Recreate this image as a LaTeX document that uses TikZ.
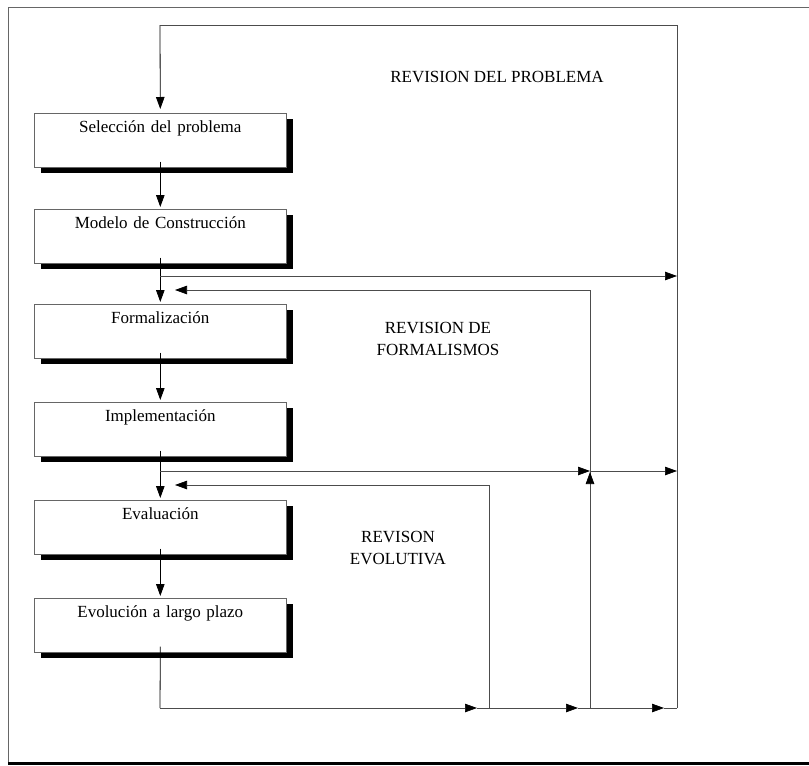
\documentclass[tikz,border=0pt]{standalone}
\usepackage{fontspec}
\setmainfont{Liberation Serif}
\usetikzlibrary{arrows.meta,shadows}
\begin{document}
\begin{tikzpicture}[x=1pt,y=-1pt,
  stage/.style={draw=black!60, line width=0.6pt, fill=white,
    text width=252pt, align=center, inner sep=0pt,
    text height=19pt, text depth=35pt, anchor=north west,
    font=\fontsize{17}{20}\selectfont,
    drop shadow={shadow xshift=6.5pt, shadow yshift=-6pt, fill=black, opacity=1}},
  tag/.style={align=center, inner sep=0pt, font=\fontsize{17}{22}\selectfont},
  flow/.style={draw=black, line width=0.8pt},
  link/.style={draw=black!70, line width=0.7pt},
  tip/.style={-{Triangle[length=12pt,width=8.5pt,fill=black,color=black]}},
]
\useasboundingbox (0,0) rectangle (809,766);

% outer frame (runs off the right edge)
\draw[black!60, line width=0.7pt] (8,763) -- (8,7) -- (812,7);
\draw[black, line width=3pt] (8,763) -- (812,763);

% stages
\node[stage] (s1) at (34,113) {Selección del problema};
\node[stage] (s2) at (34,209) {Modelo de Construcción};
\node[stage] (s3) at (34,304) {Formalización};
\node[stage] (s4) at (34,402) {Implementación};
\node[stage] (s5) at (34,500) {Evaluación};
\node[stage] (s6) at (34,598) {Evolución a largo plazo};

% revision labels
\node[tag] (l1) at (497,77) {REVISION DEL PROBLEMA};
\node[tag] (l2) at (438,339) {REVISION DE\\FORMALISMOS};
\node[tag] (l3) at (398,548) {REVISON\\EVOLUTIVA};

% key points
\coordinate (top) at (160,25);
\coordinate (tr) at (677,25);
\coordinate (fb) at (160,708);
\coordinate (b1) at (489,708);
\coordinate (b2) at (590,708);
\coordinate (b3) at (677,708);
\coordinate (a1) at (477,708);
\coordinate (a2) at (578,708);
\coordinate (a3) at (664,708);
\coordinate (r1) at (160,276);
\coordinate (r1e) at (677,276);
\coordinate (r2) at (160,471);
\coordinate (r2m) at (590,471);
\coordinate (r2e) at (677,471);
\coordinate (k2) at (590,290);
\coordinate (k2e) at (175,290);
\coordinate (k1) at (489,485);
\coordinate (k1e) at (175,485);
\coordinate (up0) at (590,486);
\coordinate (up1) at (590,472);

% main sequence
\draw[flow, tip, shorten >=4pt] (top) -- (s1.north);
\draw[flow, tip, shorten >=2pt, shorten <=-6pt] (s1.south) -- (s2.north);
\draw[flow, tip, shorten >=2pt, shorten <=-6pt] (s2.south) -- (s3.north);
\draw[flow, tip, shorten >=2pt, shorten <=-6pt] (s3.south) -- (s4.north);
\draw[flow, tip, shorten >=2pt, shorten <=-6pt] (s4.south) -- (s5.north);
\draw[flow, tip, shorten >=2pt, shorten <=-6pt] (s5.south) -- (s6.north);
\draw[flow, shorten <=-6pt] (s6.south) -- (fb);

% feedback along the bottom
\draw[link, tip] (fb) -- (a1);
\draw[link, tip] (a1) -- (a2);
\draw[link, tip] (a2) -- (a3);
\draw[link] (a3) -- (b3);

% problem revision loop
\draw[link] (b3) -- (tr) -- (top);
\draw[link, tip] (r1) -- (r1e);

% formalism revision loop
\draw[link, tip] (r2) -- (r2m);
\draw[link, tip] (r2m) -- (r2e);
\draw[link] (b2) -- (k2);
\draw[link, tip] (k2) -- (k2e);
\draw[link, tip] (up0) -- (up1);

% evolutive revision loop
\draw[link] (b1) -- (k1);
\draw[link, tip] (k1) -- (k1e);
\end{tikzpicture}
\end{document}
